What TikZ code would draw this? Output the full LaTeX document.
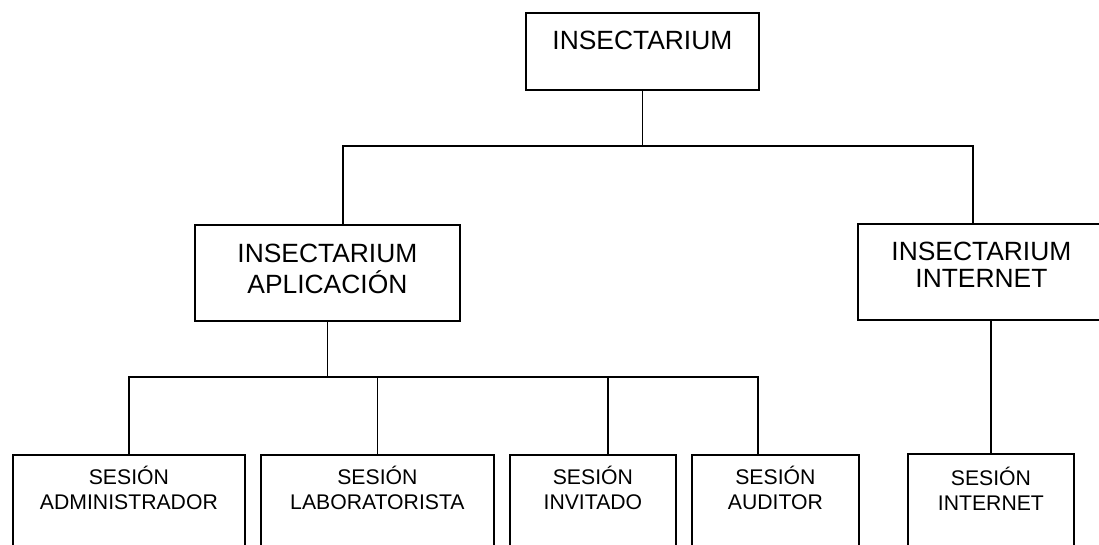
\documentclass[tikz,border=0pt]{standalone}
\usepackage{fontspec}
\setmainfont{Liberation Sans}
\newcommand{\boxtext}[1]{\begin{tabular}[t]{@{}c@{}}#1\end{tabular}}
\tikzset{
  box/.style={draw, line width=1.8pt, inner sep=0pt, anchor=north west},
  bigbox/.style={box, font=\fontsize{26.4}{27}\selectfont},
  smallbox/.style={box, font=\fontsize{21.2}{25}\selectfont, text height=30pt, text depth=100pt}
}
\begin{document}
\begin{tikzpicture}[x=1pt, y=-1pt, line width=1.8pt]

            \clip (0,0) rectangle (1099,544);

            % upper levels
            \node (root) at (525,12) [bigbox, minimum width=233pt, text height=37pt, text depth=40pt] {\boxtext{INSECTARIUM}};
            \node (app) at (194,224) [bigbox, minimum width=265pt, text height=38pt, text depth=58pt] {\boxtext{INSECTARIUM\\APLICACIÓN}};
            \node (net) at (857,223) [bigbox, minimum width=247pt, text height=37pt, text depth=59pt] {\boxtext{INSECTARIUM\\INTERNET}};

            % sessions
            \node (adm) at (12,454) [smallbox, minimum width=232pt] {\boxtext{SESIÓN\\ADMINISTRADOR}};
            \node (lab) at (260,454) [smallbox, minimum width=233pt] {\boxtext{SESIÓN\\LABORATORISTA}};
            \node (inv) at (509,454) [smallbox, minimum width=166pt] {\boxtext{SESIÓN\\INVITADO}};
            \node (aud) at (691,454) [smallbox, minimum width=167pt] {\boxtext{SESIÓN\\AUDITOR}};
            \node (ses) at (907,453) [smallbox, minimum width=166pt, text height=32pt] {\boxtext{SESIÓN\\INTERNET}};

            \coordinate (tl) at (343,146);
            \coordinate (tr) at (973,146);
            \coordinate (bi) at (608,377);
            \coordinate (br) at (758,377);

            \draw (root.south) -- (root.south |- tl);
            \draw (tl |- app.north) -- (tl) -- (tr) -- (tr |- net.north);

            \draw (app.south) -- (app.south |- br);
            \draw (adm.north) |- (br) -- (br |- aud.north);
            \draw (lab.north) -- (lab.north |- br);
            \draw (bi) -- (bi |- inv.north);

            \draw (net.south -| ses.north) -- (ses.north);
        \end{tikzpicture}
\end{document}
